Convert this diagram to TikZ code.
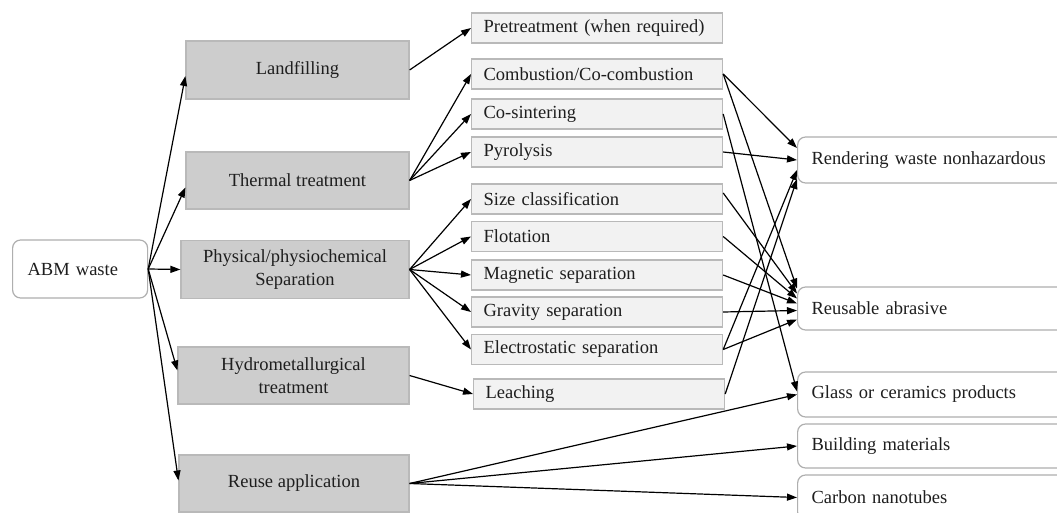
\documentclass[tikz,border=0pt]{standalone}
\usepackage{fontspec}
\setmainfont{Liberation Serif}
\usetikzlibrary{arrows.meta}
\definecolor{lboxfill}{RGB}{205,205,205}
\definecolor{lboxdraw}{RGB}{185,185,185}
\definecolor{mboxfill}{RGB}{242,242,242}
\definecolor{mboxdraw}{RGB}{185,185,185}
\definecolor{rboxdraw}{RGB}{175,175,175}
\definecolor{txt}{RGB}{30,30,30}
\begin{document}
\begin{tikzpicture}[x=1pt,y=-1pt, font=\fontsize{18.5}{23}\selectfont,
 lbox/.style={draw=lboxdraw, fill=lboxfill, line width=1.2pt, align=center, text=txt, inner sep=0pt},
 mbox/.style={draw=mboxdraw, fill=mboxfill, line width=1.2pt, anchor=west, minimum height=30pt, text width=227pt, inner xsep=12pt, inner ysep=0pt, align=left, text=txt},
 rbox/.style={draw=rboxdraw, fill=white, rounded corners=8pt, line width=1.2pt, anchor=west, text width=240pt, inner xsep=14pt, inner ysep=0pt, align=left, text=txt},
 arr/.style={-{Triangle[length=10pt,width=7pt]}, line width=1.2pt, black}]
\clip (0,0) rectangle (1057,513);
\fill[white] (0,0) rectangle (1057,513);

% source
\node[rbox, text width=105pt, inner xsep=15pt, minimum height=58pt] (abm) at (12,269) {ABM waste};

% left column
\node[lbox, minimum width=223pt, minimum height=58pt] (land) at (297.5,70) {Landfilling};
\node[lbox, minimum width=223pt, minimum height=57pt] (therm) at (297.5,180.5) {Thermal treatment};
\node[lbox, minimum width=228pt, minimum height=58pt] (phys) at (295,269.5) {Physical/physiochemical\\Separation};
\node[lbox, minimum width=231pt, minimum height=57pt] (hydro) at (293.5,375.5) {Hydrometallurgical\\treatment};
\node[lbox, minimum width=230pt, minimum height=57pt] (reuse) at (294,483.5) {Reuse application};

% middle column
\node[mbox] (pre) at (471,28) {Pretreatment (when required)};
\node[mbox] (comb) at (471,74) {Combustion/Co-combustion};
\node[mbox] (cos) at (471,114) {Co-sintering};
\node[mbox] (pyr) at (471,152) {Pyrolysis};
\node[mbox] (size) at (471,199) {Size classification};
\node[mbox] (flot) at (471,236.5) {Flotation};
\node[mbox] (mag) at (471,275) {Magnetic separation};
\node[mbox] (grav) at (471,312) {Gravity separation};
\node[mbox] (elec) at (471,349.5) {Electrostatic separation};
\node[mbox] (leach) at (473,394) {Leaching};

% right column
\node[rbox, minimum height=46pt] (rend) at (797,160) {Rendering waste nonhazardous};
\node[rbox, minimum height=43pt] (abr) at (797,308.5) {Reusable abrasive};
\node[rbox, minimum height=45pt] (glass) at (797,394.5) {Glass or ceramics products};
\node[rbox, minimum height=44pt] (build) at (797,446) {Building materials};
\node[rbox, minimum height=45pt] (carb) at (797,497.5) {Carbon nanotubes};

% source to left column
\draw[arr] (abm.east) -- ([yshift=-6pt]land.west);
\draw[arr] (abm.east) -- ([yshift=-7pt]therm.west);
\draw[arr] (abm.east) -- (phys.west);
\draw[arr] (abm.east) -- ([yshift=5pt]hydro.west);
\draw[arr] (abm.east) -- ([yshift=3pt]reuse.west);

% left to middle
\draw[arr] (land.east) -- (pre.west);
\draw[arr] (therm.east) -- (comb.west);
\draw[arr] (therm.east) -- (cos.west);
\draw[arr] (therm.east) -- (pyr.west);
\draw[arr] (phys.east) -- (size.west);
\draw[arr] (phys.east) -- (flot.west);
\draw[arr] (phys.east) -- (mag.west);
\draw[arr] (phys.east) -- (grav.west);
\draw[arr] (phys.east) -- (elec.west);
\draw[arr] (hydro.east) -- (leach.west);
\draw[arr] (reuse.east) -- (glass.west);
\draw[arr] (reuse.east) -- (build.west);
\draw[arr] (reuse.east) -- (carb.west);

% middle to right
\draw[arr] (comb.east) -- ([yshift=12pt]rend.west);
\draw[arr] (comb.east) -- ([yshift=20pt]abr.west);
\draw[arr] (cos.east) -- ([yshift=3pt]glass.west);
\draw[arr] (pyr.east) -- (rend.west);
\draw[arr] ([yshift=6pt]size.east) -- ([yshift=15pt]abr.west);
\draw[arr] (flot.east) -- ([yshift=10pt]abr.west);
\draw[arr] (mag.east) -- ([yshift=5pt]abr.west);
\draw[arr] (grav.east) -- ([yshift=-2pt]abr.west);
\draw[arr] (elec.east) -- ([yshift=-11pt]abr.west);
\draw[arr] (elec.east) -- ([yshift=-10pt]rend.west);
\draw[arr] (leach.east) -- ([yshift=-19pt]rend.west);
\end{tikzpicture}
\end{document}
